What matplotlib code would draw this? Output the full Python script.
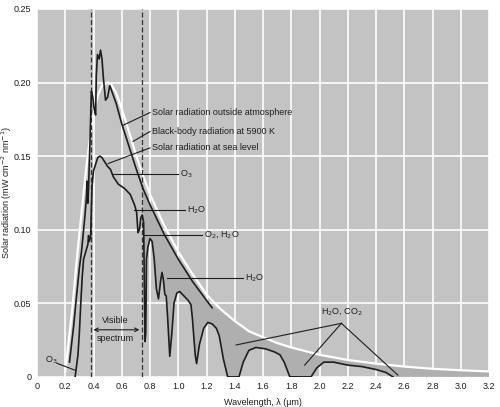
" solar spectrum: outside atmosphere, sea level and 5900 K black body "
import matplotlib
matplotlib.use("Agg")
import matplotlib.pyplot as plt

plt.rcParams.update({'font.family': ['Liberation Sans', 'DejaVu Sans'],
                     'font.size': 6.5})

# black-body radiation at 5900 K (white curve)
bb_wl = [0.20, 0.22, 0.25, 0.28, 0.30, 0.33, 0.35, 0.38, 0.40, 0.43, 0.46,
         0.50, 0.53, 0.56, 0.60, 0.65, 0.70, 0.75, 0.80, 0.90, 1.00, 1.10,
         1.20, 1.30, 1.40, 1.50, 1.60, 1.70, 1.80, 2.00, 2.20, 2.40, 2.60,
         2.80, 3.00, 3.20]
bb_val = [0.004, 0.020, 0.046, 0.078, 0.097, 0.125, 0.143, 0.166, 0.178,
          0.191, 0.198, 0.200, 0.198, 0.193, 0.182, 0.167, 0.151, 0.137,
          0.124, 0.103, 0.085, 0.070, 0.056, 0.046, 0.038, 0.031, 0.027,
          0.023, 0.020, 0.015, 0.0115, 0.009, 0.007, 0.0055, 0.0045, 0.0037]

# solar radiation outside atmosphere
toa_wl = [0.23, 0.26, 0.28, 0.30, 0.316, 0.33, 0.34, 0.35, 0.355, 0.36,
          0.365, 0.375, 0.385, 0.395, 0.405, 0.415, 0.42, 0.428, 0.44, 0.45,
          0.46, 0.47, 0.485, 0.50, 0.515, 0.53, 0.56, 0.60, 0.65, 0.70, 0.75,
          0.80, 0.90, 1.00, 1.10, 1.20, 1.24]
toa_val = [0.010, 0.035, 0.055, 0.074, 0.086, 0.100, 0.110, 0.122, 0.133,
           0.118, 0.128, 0.160, 0.194, 0.190, 0.182, 0.178, 0.205, 0.219,
           0.216, 0.222, 0.216, 0.203, 0.188, 0.190, 0.198, 0.194, 0.186,
           0.172, 0.157, 0.142, 0.128, 0.117, 0.097, 0.080, 0.065, 0.052,
           0.047]

# solar radiation at sea level
sea_wl = [0.27, 0.29, 0.30, 0.31, 0.32, 0.33, 0.345, 0.36, 0.365, 0.37,
          0.38, 0.385, 0.39, 0.40, 0.41, 0.43, 0.445, 0.46, 0.48, 0.50, 0.52,
          0.54, 0.575, 0.62, 0.66, 0.69, 0.705, 0.715, 0.725, 0.735, 0.745,
          0.755, 0.76, 0.765, 0.77, 0.775, 0.785, 0.80, 0.815, 0.83, 0.845,
          0.86, 0.875, 0.885, 0.895, 0.905, 0.915, 0.925, 0.94, 0.955, 0.97,
          0.99, 1.01, 1.04, 1.07, 1.09, 1.10, 1.12, 1.13, 1.15, 1.18, 1.21,
          1.24, 1.27, 1.29, 1.32, 1.35, 1.43, 1.46, 1.50, 1.55, 1.62, 1.68,
          1.72, 1.75, 1.79, 1.94, 1.98, 2.03, 2.10, 2.20, 2.30, 2.40, 2.47,
          2.52]
sea_val = [0.0, 0.015, 0.030, 0.050, 0.068, 0.080, 0.085, 0.090, 0.096,
           0.092, 0.095, 0.115, 0.130, 0.140, 0.143, 0.149, 0.150, 0.149,
           0.146, 0.143, 0.141, 0.136, 0.131, 0.128, 0.124, 0.117, 0.112,
           0.098, 0.100, 0.108, 0.110, 0.105, 0.060, 0.024, 0.030, 0.080,
           0.088, 0.094, 0.092, 0.080, 0.060, 0.053, 0.065, 0.071, 0.066,
           0.056, 0.055, 0.040, 0.014, 0.030, 0.050, 0.057, 0.058, 0.055,
           0.052, 0.049, 0.040, 0.015, 0.009, 0.022, 0.033, 0.037, 0.036,
           0.033, 0.028, 0.012, 0.0, 0.0, 0.010, 0.018, 0.020, 0.019, 0.017,
           0.015, 0.010, 0.0, 0.0, 0.006, 0.010, 0.010, 0.008, 0.007, 0.005,
           0.003, 0.0]

xticks = [0, 0.2, 0.4, 0.6, 0.8, 1.0, 1.2, 1.4, 1.6, 1.8, 2.0, 2.2, 2.4,
          2.6, 2.8, 3.0, 3.2]
xticklabels = ["0", "0.2", "0.4", "0.6", "0.8", "1.0", "1.2", "1.4", "1.6",
               "1.8", "2.0", "2.2", "2.4", "2.6", "2.8", "3.0", "3.2"]
yticks = [0, 0.05, 0.10, 0.15, 0.20, 0.25]
yticklabels = ["0", "0.05", "0.10", "0.15", "0.20", "0.25"]

vis_lo, vis_hi = 0.38, 0.745

ink = "#1e1e1e"
fig = plt.figure(figsize=(5.0, 4.07), dpi=100)
ax = fig.add_axes([0.074, 0.074, 0.904, 0.904])
ax.set_facecolor("#c3c3c3")

# absorbed part between top-of-atmosphere envelope and sea level
up_x = [w for w in toa_wl if w >= 0.75] + [w for w in bb_wl if w > 1.24]
up_y = [v for w, v in zip(toa_wl, toa_val) if w >= 0.75] + \
       [v for w, v in zip(bb_wl, bb_val) if w > 1.24]
lo = [(w, v) for w, v in zip(sea_wl, sea_val) if w >= 0.75][::-1]
px = up_x + [3.2] + [p[0] for p in lo]
py = up_y + [0.0] + [p[1] for p in lo]
ax.fill(px, py, color="#afafaf", lw=0, zorder=1)

ax.set_xticks(xticks)
ax.set_xticklabels(xticklabels)
ax.set_yticks(yticks)
ax.set_yticklabels(yticklabels)
ax.grid(color="white", lw=1.2, zorder=2)
ax.set_axisbelow(True)

ax.plot(bb_wl, bb_val, color="white", lw=1.6, zorder=3)
ax.plot(toa_wl, toa_val, color=ink, lw=1.2, zorder=4)
ax.plot(sea_wl, sea_val, color=ink, lw=1.2, zorder=4)

for xv in (vis_lo, vis_hi):
    ax.axvline(xv, color="#333333", lw=0.9, ls=(0, (4, 2)), zorder=3)

ax.annotate("", xy=(vis_lo, 0.032), xytext=(vis_hi, 0.032),
            arrowprops=dict(arrowstyle="<->", color=ink, lw=0.8))
ax.text(0.555, 0.0355, "Visible", ha="center", va="bottom", color=ink)
ax.text(0.555, 0.029, "spectrum", ha="center", va="top", color=ink)

# labels with leader lines
def note(txt, tx, ty, px_, py_, ha="left"):
    ax.text(tx, ty, txt, ha=ha, va="center", color=ink, zorder=6)
    ax.plot([px_[0], py_[0]], [px_[1], py_[1]], color=ink, lw=0.8, zorder=5)

note("Solar radiation outside atmosphere", 0.815, 0.1796,
     (0.80, 0.1796), (0.61, 0.171))
note("Black-body radiation at 5900 K", 0.815, 0.1667,
     (0.80, 0.1667), (0.68, 0.160))
note("Solar radiation at sea level", 0.815, 0.1556,
     (0.80, 0.1556), (0.505, 0.145))
note("O$_3$", 1.01, 0.138, (1.0, 0.138), (0.54, 0.138))
note("H$_2$O", 1.06, 0.1134, (1.05, 0.1134), (0.69, 0.1134))
note("O$_2$, H$_2$O", 1.18, 0.0965, (1.17, 0.0965), (0.76, 0.0965))
note("H$_2$O", 1.47, 0.067, (1.46, 0.067), (0.917, 0.067))
note("O$_3$", 0.055, 0.0115, (0.14, 0.0093), (0.27, 0.0045))

ax.text(2.16, 0.0405, "H$_2$O, CO$_2$", ha="center", va="bottom", color=ink)
apex = (2.155, 0.0364)
for end in [(1.41, 0.0217), (1.895, 0.008), (2.555, 0.0012)]:
    ax.plot([apex[0], end[0]], [apex[1], end[1]], color=ink, lw=0.8,
            zorder=5)

ax.set_xlim(0, 3.2)
ax.set_ylim(0, 0.25)
for s in ax.spines.values():
    s.set_visible(False)
ax.tick_params(length=0, colors=ink, pad=4)
ax.set_xlabel("Wavelength, \u03bb (\u03bcm)", color=ink, labelpad=5)
ax.set_ylabel("Solar radiation (mW cm$^{-2}$ nm$^{-1}$)", color=ink)
ax.yaxis.set_label_coords(-0.05, 0.5)

fig.savefig("out.png", dpi=100, facecolor="white")
